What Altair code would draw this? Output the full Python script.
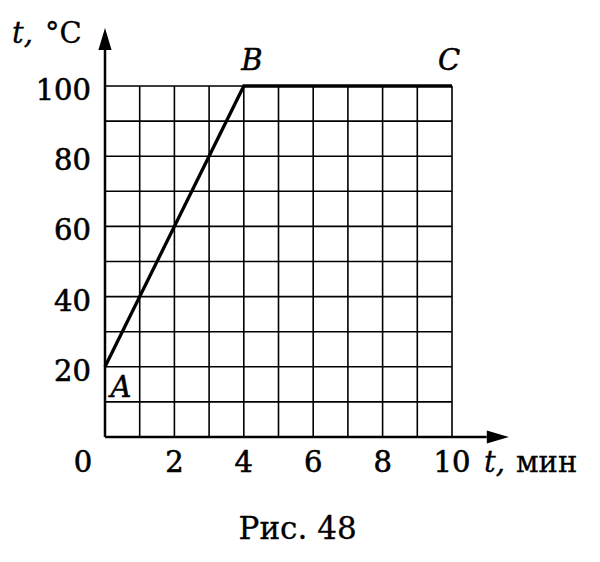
import altair as alt
import pandas as pd

# data
t_min = [0, 4, 10]
temp = [20, 100, 100]
point_names = ["A", "B", "C"]
grid_x = [1, 2, 3, 4, 5, 6, 7, 8, 9, 10]
grid_y = [10, 20, 30, 40, 50, 60, 70, 80, 90, 100]
x_ticks = [2, 4, 6, 8, 10]
y_ticks = [20, 40, 60, 80, 100]
caption = "Рис. 48"

FONT = "DejaVu Serif"
W, H = 347, 351

line_df = pd.DataFrame({"t": t_min, "T": temp, "name": point_names})
xs = alt.Scale(domain=[0, 10], nice=False, zero=False)
ys = alt.Scale(domain=[0, 100], nice=False, zero=False)

def X(*a, **k):
    return alt.X(*a, scale=xs, axis=None, **k)

def Y(*a, **k):
    return alt.Y(*a, scale=ys, axis=None, **k)

gx = alt.Chart(pd.DataFrame({"g": grid_x})).mark_rule(color="black", strokeWidth=1.6).encode(
    x=X("g:Q"), y=Y(datum=0), y2=alt.datum(100))
gy = alt.Chart(pd.DataFrame({"g": grid_y})).mark_rule(color="black", strokeWidth=1.6).encode(
    y=Y("g:Q"), x=X(datum=0), x2=alt.datum(10))

line = alt.Chart(line_df).mark_line(color="black", strokeWidth=3.3).encode(
    x=X("t:Q"), y=Y("T:Q"))

base = alt.Chart(pd.DataFrame({"k": [0]}))

y_axis = base.mark_rule(color="black", strokeWidth=2.5).encode(
    x=X(datum=0), y=Y(datum=0), y2=alt.datum(111))
x_axis = base.mark_rule(color="black", strokeWidth=2.5).encode(
    x=X(datum=0), x2=alt.datum(11), y=Y(datum=0))

up_arrow = base.mark_point(shape="M0,-1L0.6,1L-0.6,1Z", size=484, filled=True,
                           color="black", opacity=1).encode(
    x=X(datum=0), y=Y(datum=113.4))
right_arrow = base.mark_point(shape="M1,0L-1,-0.6L-1,0.6Z", size=484, filled=True,
                              color="black", opacity=1).encode(
    x=X(datum=11.32), y=Y(datum=0))

NUM = dict(font=FONT, fontSize=29, color="black", stroke="black", strokeWidth=0.6)

ytick_df = pd.DataFrame({"v": y_ticks, "lab": [str(v) for v in y_ticks]})
y_labels = alt.Chart(ytick_df).mark_text(align="right", baseline="middle", dx=-14, dy=5,
                                         **NUM).encode(
    x=X(datum=0), y=Y("v:Q"), text="lab:N")

xtick_df = pd.DataFrame({"u": x_ticks, "lab": [str(v) for v in x_ticks]})
x_labels = alt.Chart(xtick_df).mark_text(align="center", baseline="middle", dy=26,
                                         **NUM).encode(
    x=X("u:Q"), y=Y(datum=0), text="lab:N")

origin = base.mark_text(align="center", baseline="middle", dx=-22, dy=26, text="0",
                        **NUM).encode(
    x=X(datum=0), y=Y(datum=0))

def pt_label(i, dx, dy):
    d = line_df.iloc[[i]]
    return alt.Chart(d).mark_text(font=FONT, fontSize=29, fontStyle="italic",
                                  align="center", baseline="middle", dx=dx, dy=dy,
                                  color="black", stroke="black", strokeWidth=0.5).encode(
        x=X("t:Q"), y=Y("T:Q"), text="name:N")

lab_a = pt_label(0, 16, 21)
lab_b = pt_label(1, 8, -25)
lab_c = pt_label(2, -3, -25)

TXT = dict(font=FONT, fontSize=29, color="black", stroke="black", strokeWidth=0.3)

# axis titles
yt_t = base.mark_text(fontStyle="italic", align="left", baseline="alphabetic",
                      dx=-93, dy=-1, text="t,", **TXT).encode(
    x=X(datum=0), y=Y(datum=112))
yt_c = base.mark_text(align="left", baseline="alphabetic",
                      dx=-60, dy=-1, text="°C", **TXT).encode(
    x=X(datum=0), y=Y(datum=112))

xt_t = base.mark_text(fontStyle="italic", align="left", baseline="middle",
                      dx=32, dy=26, text="t,", **TXT).encode(
    x=X(datum=10), y=Y(datum=0))
xt_m = base.mark_text(align="left", baseline="middle",
                      dx=64, dy=26, text="мин", **TXT).encode(
    x=X(datum=10), y=Y(datum=0))

cap = base.mark_text(align="center", baseline="middle", dy=93, text=caption,
                     font=FONT, fontSize=31, color="black", stroke="black",
                     strokeWidth=0.3).encode(
    x=X(datum=5.55), y=Y(datum=0))

chart = alt.layer(
    gx, gy, line, y_axis, x_axis, up_arrow, right_arrow, y_labels, x_labels, origin,
    lab_a, lab_b, lab_c, yt_t, yt_c, xt_t, xt_m, cap
).properties(
    width=W, height=H,
    autosize=alt.AutoSizeParams(type="none"),
    padding={"left": 97, "top": 78, "right": 130, "bottom": 110},
).configure_view(stroke=None).configure(background="white")

chart.save("out.html", embed_options={"renderer": "svg", "actions": False})
